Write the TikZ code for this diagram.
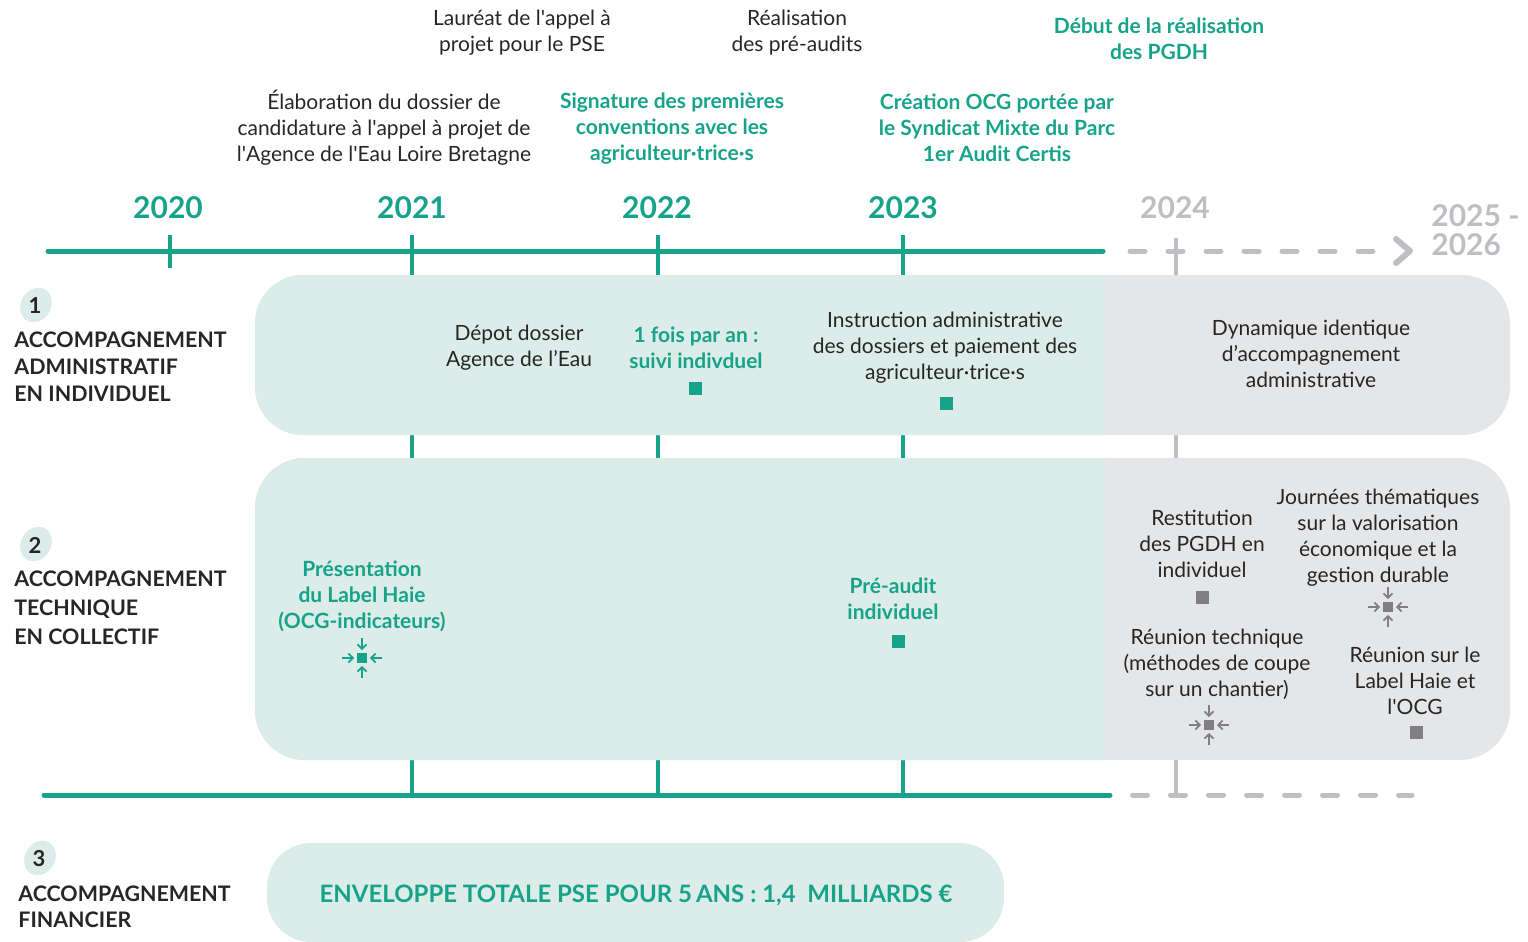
\documentclass[tikz,border=0pt]{standalone}
\usepackage{fontspec}
\setmainfont{Lato}
\usetikzlibrary{arrows.meta}
\definecolor{teal1}{RGB}{22,163,138}
\definecolor{tealfill}{RGB}{220,236,232}
\definecolor{grayfill}{RGB}{229,230,232}
\definecolor{grayline}{RGB}{190,191,195}
\definecolor{grayicon}{RGB}{128,128,130}
\definecolor{darktext}{RGB}{38,38,38}
\newcommand{\sq}{\textquotesingle}
\tikzset{
  txt/.style={inner sep=0pt, align=center, text=darktext, font=\fontsize{10.5}{13}\selectfont},
  tealtxt/.style={inner sep=0pt, align=center, text=teal1, font=\fontsize{10.5}{13}\selectfont\bfseries},
  year/.style={inner sep=0pt, text=teal1, font=\fontsize{15}{14.5}\selectfont\bfseries},
  grayyear/.style={year, text=grayline, align=left},
  cat/.style={inner sep=0pt, align=left, anchor=west, text=darktext, font=\fontsize{10.7}{#1}\selectfont\bfseries},
  num/.style={inner sep=0pt, text=darktext, font=\fontsize{11}{13}\selectfont\bfseries},
  sqbox/.style={fill=teal1, minimum size=6.5pt, inner sep=0pt},
  gsqbox/.style={sqbox, fill=grayicon},
  tline/.style={teal1, line width=2.5pt, line cap=round},
  tickline/.style={teal1, line width=2pt},
  gtick/.style={grayline, line width=2pt},
  gdash/.style={grayline, line width=2.5pt, line cap=round, dash pattern=on 7.5pt off 11.5pt},
  merge/.pic={
    \fill (-5,-5) rectangle (5,5);
    \foreach \a in {0,90,180,270}
      \draw[line width=0.9pt, rotate=\a, -{Straight Barb[length=2.2pt,width=4.5pt]}] (-20,0) -- (-8,0);
  }
}
\begin{document}
\begin{tikzpicture}[x=0.5pt,y=-0.5pt]
\useasboundingbox (0,0) rectangle (1528,942);

% named coordinates for timeline
\coordinate (t0) at (48,251);
\coordinate (t1) at (1103,251);
\coordinate (b0) at (44,795);
\coordinate (b1) at (1110,795);
\coordinate (k20a) at (170,235); \coordinate (k20b) at (170,268);
\coordinate (k21a) at (412,235); \coordinate (k21b) at (412,795);
\coordinate (k22a) at (658,235); \coordinate (k22b) at (658,795);
\coordinate (k23a) at (903,235); \coordinate (k23b) at (903,795);
\coordinate (k24a) at (1176,238); \coordinate (k24b) at (1176,795);

% vertical ticks (behind boxes)
\draw[tickline] (k20a) -- (k20b);
\draw[tickline] (k21a) -- (k21b);
\draw[tickline] (k22a) -- (k22b);
\draw[tickline] (k23a) -- (k23b);
\draw[gtick] (k24a) -- (k24b);

% timelines
\draw[tline] (t0) -- (t1);
\draw[tline] (b0) -- (b1);
\coordinate (d0) at (1130,251); \coordinate (d1) at (1376,251);
\draw[gdash] (d0) -- (d1);
\coordinate (a0) at (1396,239); \coordinate (a1) at (1410,251); \coordinate (a2) at (1396,263);
\draw[grayline, line width=3pt, line cap=round, line join=round] (a0) -- (a1) -- (a2);
\coordinate (e0) at (1132.5,795); \coordinate (e1) at (1412,795);
\draw[gdash] (e0) -- (e1);

% boxes
\fill[grayfill, rounded corners=24pt] (255,275) rectangle (1510,435);
\fill[grayfill, rounded corners=25pt] (255,458) rectangle (1510,760);
\begin{scope}
  \clip (0,0) rectangle (1105,942);
  \fill[tealfill, rounded corners=24pt] (255,275) rectangle (1510,435);
  \fill[tealfill, rounded corners=25pt] (255,458) rectangle (1510,760);
\end{scope}
\fill[tealfill, rounded corners=22pt] (267,843) rectangle (1004,942);

% years
\node[year] (y20) at (168,208) {2020};
\node[year] (y21) at (412,208) {2021};
\node[year] (y22) at (657,208) {2022};
\node[year] (y23) at (903,208) {2023};
\node[grayyear] (y24) at (1175,208) {2024};
\node[grayyear, anchor=west] (y25) at (1431,230) {2025 -\\2026};

% top texts
\node[txt] (laureat) at (522,33) {Lauréat de l\sq appel à\\projet pour le PSE};
\node[txt] (realis) at (797,33) {Réalisation\\des pré-audits};
\node[tealtxt] (debut) at (1159,39) {Début de la réalisation\\des PGDH};
\node[txt] (elab) at (384,128) {Élaboration du dossier de\\candidature à l\sq appel à projet de\\l\sq Agence de l\sq Eau Loire Bretagne};
\node[tealtxt] (signat) at (672,129) {Signature des premières\\conventions avec les\\agriculteur·trice·s};
\node[tealtxt] (creat) at (997,128) {Création OCG portée par\\le Syndicat Mixte du Parc\\1er Audit Certis};

% category labels
\fill[tealfill] (36,305) ellipse [x radius=15, y radius=18, rotate=-30];
\node[num] (n1) at (35,306) {1};
\node[cat=13.5] (c1) at (14,367) {ACCOMPAGNEMENT\\ADMINISTRATIF\\EN INDIVIDUEL};
\fill[tealfill] (36,544) ellipse [x radius=15, y radius=18, rotate=-30];
\node[num] (n2) at (35,545) {2};
\node[cat=14.5] (c2) at (14,608) {ACCOMPAGNEMENT\\TECHNIQUE\\EN COLLECTIF};
\fill[tealfill] (40,858) ellipse [x radius=15, y radius=18, rotate=-30];
\node[num] (n3) at (39,859) {3};
\node[cat=13] (c3) at (18,907) {ACCOMPAGNEMENT\\FINANCIER};

% box 1 contents
\node[txt] (depot) at (519,348) {Dépot dossier\\Agence de l’Eau};
\node[tealtxt] (fois) at (696,348) {1 fois par an :\\suivi indivduel};
\node[sqbox] (sq1) at (695,388) {};
\node[txt] (instr) at (945,348) {Instruction administrative\\des dossiers et paiement des\\agriculteur·trice·s};
\node[sqbox] (sq2) at (946,403) {};
\node[txt] (dyn) at (1311,354) {Dynamique identique\\d’accompagnement\\administrative};

% box 2 contents
\node[tealtxt] (pres) at (362,596) {Présentation\\du Label Haie\\(OCG-indicateurs)};
\pic[color=teal1] (ic1) at (362,658) {merge};
\node[tealtxt] (preaudit) at (893,599) {Pré-audit\\individuel};
\node[sqbox] (sq3) at (898,641) {};
\node[txt] (restit) at (1202,544) {Restitution\\des PGDH en\\individuel};
\node[gsqbox] (sq4) at (1202,597) {};
\node[txt] (journ) at (1378,538) {Journées thématiques\\sur la valorisation\\économique et la\\gestion durable};
\pic[color=grayicon] (ic2) at (1388,607) {merge};
\node[txt] (reutech) at (1217,664) {Réunion technique\\(méthodes de coupe\\sur un chantier)};
\pic[color=grayicon] (ic3) at (1209,725) {merge};
\node[txt] (reulab) at (1415,681) {Réunion sur le\\Label Haie et\\l\sq OCG};
\node[gsqbox] (sq5) at (1416,732) {};

% box 3
\node[tealtxt, font=\fontsize{12}{14}\selectfont\bfseries] (env) at (636,895) {ENVELOPPE TOTALE PSE POUR 5\,ANS : 1,4~~MILLIARDS €};
\end{tikzpicture}
\end{document}
